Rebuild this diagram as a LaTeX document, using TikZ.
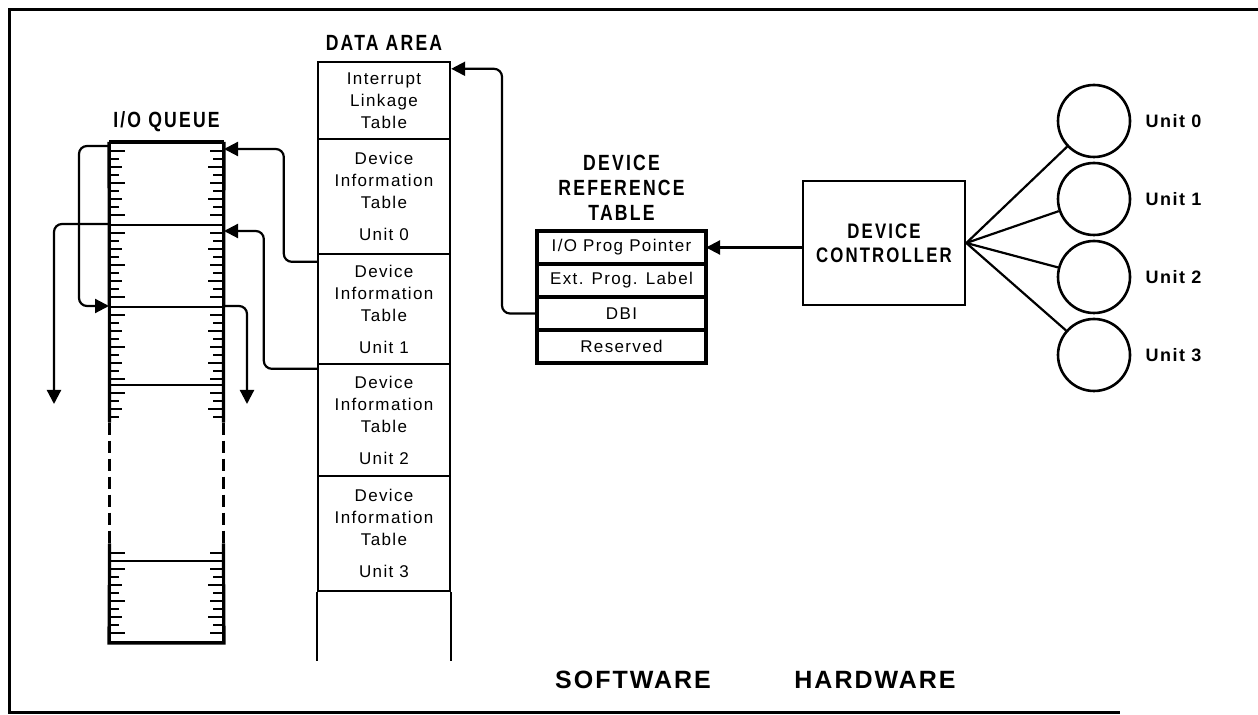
\documentclass[tikz,border=0pt]{standalone}
\usepackage{fontspec}
\setmainfont{Liberation Sans}
\newfontfamily\dafont[LetterSpace=8]{Liberation Sans}
\newfontfamily\hdfont[LetterSpace=10,FakeStretch=0.8]{Liberation Sans}
\usetikzlibrary{arrows.meta, positioning}

\begin{document}
\begin{tikzpicture}[x=0.5pt,y=-0.5pt,
  link/.style={line width=1.1pt, rounded corners=4pt},
  tip/.style={-{Triangle[length=7pt,width=7pt]}},
  cell/.style={draw, line width=1.2pt, minimum width=66pt, inner sep=0pt, align=center, font=\dafont\fontsize{8.5}{11}\selectfont},
  qcell/.style={draw, line width=1pt, minimum width=56.5pt, inner sep=0pt},
  qside/.style={line width=1.6pt},
  drt/.style={draw, line width=1pt, minimum width=83.5pt, minimum height=15.5pt, inner sep=0pt, font=\dafont\fontsize{8.5}{11}\selectfont},
  title/.style={inner sep=0pt, align=center, font=\hdfont\bfseries\fontsize{11}{12.5}\selectfont},
  unit/.style={circle, draw, line width=1.3pt, minimum size=36pt, inner sep=0pt},
  ulabel/.style={inner sep=0pt, font=\dafont\bfseries\fontsize{9}{11}\selectfont},
  big/.style={inner sep=0pt, font=\dafont\bfseries\fontsize{12.5}{14}\selectfont}]
\useasboundingbox (0,0) rectangle (1258,715);
\draw[line width=1.5pt] (1258,10) -- (9,10) -- (9,712) -- (1120,712);

\node[qcell, minimum height=41pt] (q1) at (166.5,184) {};
\node[qcell, minimum height=41pt] (q2) at (166.5,266) {};
\node[qcell, minimum height=39pt] (q3) at (166.5,346) {};
\node[inner sep=0pt, minimum width=56.5pt, minimum height=88pt] (q4) at (166.5,473) {};
\node[qcell, minimum height=40.5pt] (q5) at (166.5,601.5) {};
\node[title, above=5pt of q1] (qtitle) {I/O QUEUE};
\draw[qside] (q1.north west) -- (q1.north east);
\draw[qside] (q1.north west) -- ([yshift=-19pt]q4.north west);
\draw[qside] (q1.north east) -- ([yshift=-19pt]q4.north east);
\draw[qside, dash pattern=on 6pt off 3pt] ([yshift=-19pt]q4.north west) -- ([yshift=9pt]q4.south west);
\draw[qside, dash pattern=on 6pt off 3pt] ([yshift=-19pt]q4.north east) -- ([yshift=9pt]q4.south east);
\draw[qside] ([yshift=9pt]q4.south west) -- (q5.south west) -- (q5.south east) -- ([yshift=9pt]q4.south east);
\foreach \a/\n in {151/9,233/9,315/9,393/4,553/1,569/9} {
  \foreach \k in {1,...,\n} {
    \pgfmathsetmacro\y{\a+8*(\k-1)}
    \pgfmathsetmacro\l{mod(\k,4)==1 ? 15 : (mod(\k,2)==0 ? 9 : 12)}
    \pgfmathsetmacro\r{mod(\k,4)==3 ? 15 : (mod(\k,2)==0 ? 10 : 13)}
    \draw[line width=1pt] (110,\y) -- ++(\l,0) (223,\y) -- ++(-\r,0);
  }
}

\node[cell, minimum height=38.5pt] (ila) at (384,100.5) {Interrupt\\Linkage\\Table};
\node[cell, minimum height=57.5pt] (dit0) at (384,196.5) {Device\\Information\\Table\\[5pt]Unit 0};
\node[cell, minimum height=55pt] (dit1) at (384,309) {Device\\Information\\Table\\[5pt]Unit 1};
\node[cell, minimum height=56pt] (dit2) at (384,420) {Device\\Information\\Table\\[5pt]Unit 2};
\node[cell, minimum height=57.5pt] (dit3) at (384,533.5) {Device\\Information\\Table\\[5pt]Unit 3};
\draw[line width=1.2pt] (dit3.south west) -- ++(0,69) (dit3.south east) -- ++(0,69);
\node[title, above=5pt of ila] (datitle) {DATA AREA};

\node[drt] (drt1) at (621.5,247.5) {I/O Prog Pointer};
\node[drt, below=0pt of drt1] (drt2) {Ext. Prog. Label};
\node[drt, below=0pt of drt2] (drt3) {DBI};
\node[drt, below=0pt of drt3] (drt4) {Reserved};
\draw[line width=1.6pt] (drt1.north west) rectangle (drt4.south east);
\node[title, above=5pt of drt1] (drttitle) {DEVICE\\REFERENCE\\TABLE};

\node[draw, line width=1.3pt, minimum width=81pt, minimum height=62pt, align=center, font=\hdfont\bfseries\fontsize{10.5}{12}\selectfont] (ctrl) at (884,243) {DEVICE\\CONTROLLER};
\foreach \i/\y in {0/121,1/199,2/277,3/355} {
  \node[unit] (u\i) at (1094,\y) {};
  \node[ulabel, right=7pt of u\i] (l\i) {Unit \i};
  \draw[line width=1.1pt] (ctrl.east) -- (u\i);
}

\node[big] (sw) at (633,680) {SOFTWARE};
\node[big] (hw) at (875,680) {HARDWARE};

\coordinate (out1) at (54,404);
\coordinate (out2) at (247,404);
\draw[link,tip] (drt1.east -| ctrl.west) -- (drt1.east);
\draw[link,tip] (drt3.west) -- ++(-35,0) |- ([yshift=-4pt]ila.north east);
\draw[link,tip] ([yshift=-4.5pt]dit1.north west) -- ++(-33,0) |- ([yshift=-3.5pt]q1.north east);
\draw[link,tip] ([yshift=-3pt]dit2.north west) -- ++(-53,0) |- ([yshift=-3.5pt]q2.north east);
\draw[link,tip] ([yshift=-2pt]q1.north west) -- ++(-30,0) |- (q3.north west);
\draw[link,tip] (q2.north west) -| (out1);
\draw[link,tip] (q3.north east) -| (out2);
\end{tikzpicture}
\end{document}
